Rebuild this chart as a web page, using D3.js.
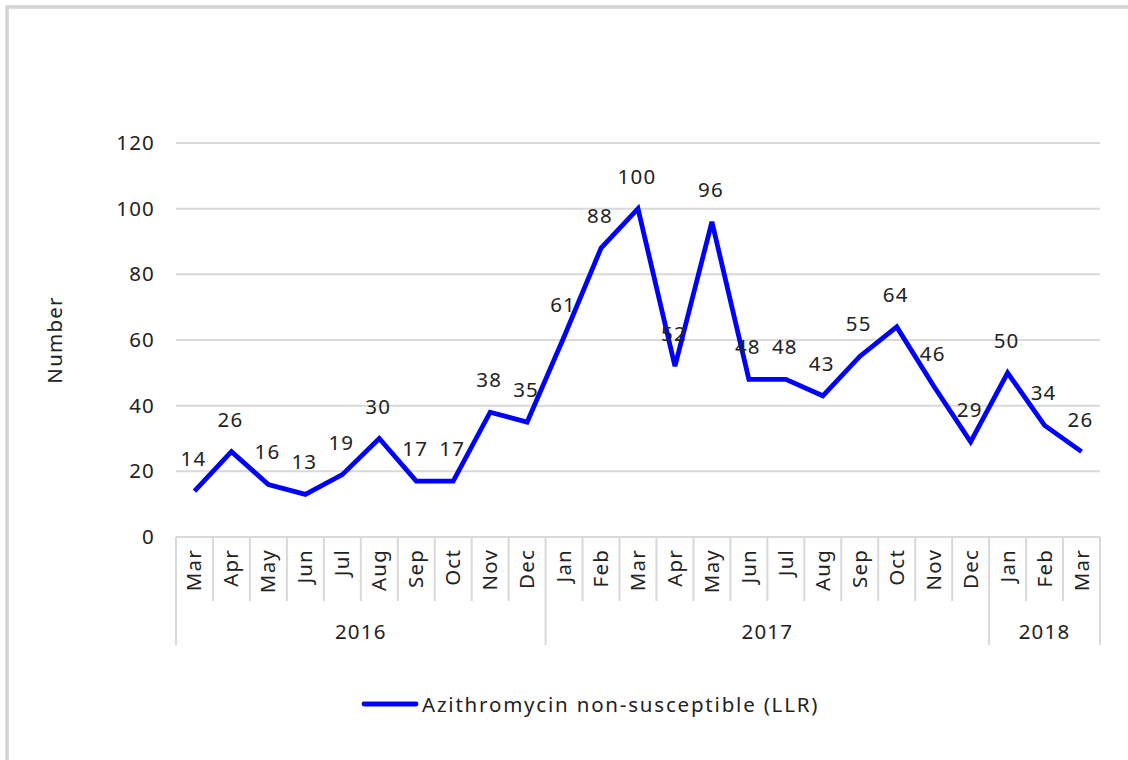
<!DOCTYPE html>
<html><head><meta charset="utf-8">
<script src="https://cdn.jsdelivr.net/npm/d3@7"></script>
<style>body{margin:0;background:#fff;} svg{display:block;} text{font-family:"Noto Sans",sans-serif;fill:#222;letter-spacing:1.2px;}</style>
</head><body>
<script>
const months = ["Mar","Apr","May","Jun","Jul","Aug","Sep","Oct","Nov","Dec","Jan","Feb","Mar","Apr","May","Jun","Jul","Aug","Sep","Oct","Nov","Dec","Jan","Feb","Mar"];
const years = ["2016","2017","2018"];
const yearSpans = [10, 12, 3];
const values = [14,26,16,13,19,30,17,17,38,35,61,88,100,52,96,48,48,43,55,64,46,29,50,34,26];
const yTicks = [0,20,40,60,80,100,120];
const seriesName = "Azithromycin non-susceptible (LLR)";

(function(){
const W = 1128, H = 760, FS = 20.5;
const svg = d3.select("body").append("svg").attr("width", W).attr("height", H);
svg.append("rect").attr("x",7).attr("y",7).attr("width",W+20).attr("height",H+20)
  .attr("fill","none").attr("stroke","#d4d4d4").attr("stroke-width",3.5);

const pL = 176, pR = 1100, pT = 143, pB = 537;
const x = d3.scaleBand().domain(d3.range(months.length)).range([pL, pR]).padding(0);
const y = d3.scaleLinear().domain([0,120]).range([pB, pT]);

svg.append("g").selectAll("line").data(yTicks).join("line")
  .attr("x1", pL).attr("x2", pR).attr("y1", d=>y(d)).attr("y2", d=>y(d))
  .attr("stroke", "#d9d9d9").attr("stroke-width", 2);

const yAxis = d3.axisLeft(y).tickValues(yTicks).tickSize(0).tickPadding(21);
const ya = svg.append("g").attr("transform", `translate(${pL},0)`).call(yAxis);
ya.select(".domain").remove();
ya.selectAll("text").attr("font-size", FS).attr("font-family", "Noto Sans").attr("fill", "#222");

svg.append("text").attr("transform", `translate(62,${(pT+pB)/2}) rotate(-90)`)
  .attr("text-anchor","middle").attr("font-size",FS).text("Number");

const sepG = svg.append("g").attr("stroke","#d9d9d9").attr("stroke-width",2);
const yearBoundaries = [0];
yearSpans.reduce((acc, s) => { yearBoundaries.push(acc + s); return acc + s; }, 0);
for (let i = 0; i <= months.length; i++) {
  const xx = i < months.length ? x(i) : x(months.length-1) + x.bandwidth();
  const isYear = yearBoundaries.includes(i);
  sepG.append("line").attr("x1", xx).attr("x2", xx).attr("y1", pB).attr("y2", isYear ? 645 : 601);
}

svg.append("g").selectAll("text").data(months).join("text")
  .attr("transform", (d,i)=>`translate(${x(i)+x.bandwidth()/2+7},549) rotate(-90)`)
  .attr("text-anchor","end").attr("font-size",FS).text(d=>d);

years.forEach((yr, k) => {
  const s = yearBoundaries[k], e = yearBoundaries[k+1];
  const cx = (x(s) + (x(e-1) + x.bandwidth())) / 2;
  svg.append("text").attr("x", cx).attr("y", 639).attr("text-anchor","middle").attr("font-size",FS).text(yr);
});

const line = d3.line().x((d,i)=>x(i)+x.bandwidth()/2).y(d=>y(d));
svg.append("path").datum(values).attr("d", line).attr("fill","none")
  .attr("stroke","#0000ff").attr("stroke-width",4.8).attr("stroke-linejoin","miter");

svg.append("g").selectAll("text").data(values).join("text")
  .attr("x",(d,i)=>x(i)+x.bandwidth()/2 - 1).attr("y", d=>y(d)-25)
  .attr("text-anchor","middle").attr("font-size",FS).text(d=>d);

svg.append("line").attr("x1",364).attr("x2",416).attr("y1",704).attr("y2",704)
  .attr("stroke","#0000ff").attr("stroke-width",4.8).attr("stroke-linecap","round");
svg.append("text").attr("x",422).attr("y",712).attr("font-size",FS).style("letter-spacing","1.8px").text(seriesName);
})();
</script>
</body></html>
